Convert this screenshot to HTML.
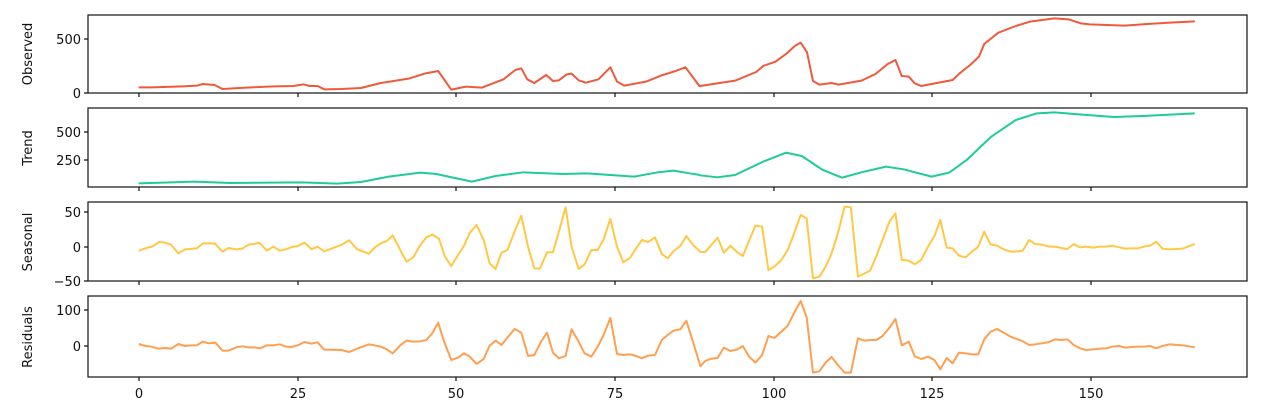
<!DOCTYPE html><html><head><meta charset="utf-8"><style>body{margin:0;background:#fff}svg{display:block;font-family:"DejaVu Sans","Liberation Sans",sans-serif}</style></head><body>
<svg width="1263" height="414" viewBox="0 0 1263 414" xmlns="http://www.w3.org/2000/svg">
<g fill="none" stroke-linejoin="round" stroke-width="2" vector-effect="non-scaling-stroke">
<g transform="translate(88,10) scale(0.3957,0.3333)"><polyline vector-effect="non-scaling-stroke" stroke="#ee5a3c" points="128,232 160,232 240,229 275,227 290,222 320,225 340,237 400,233 470,229 520,228 545,223 560,228 580,228 597,238 640,237 690,234 740,219 810,206 850,191 885,183 918,239 955,230 995,233 1050,208 1080,180 1095,175 1110,208 1128,219 1158,195 1175,213 1190,211 1210,193 1222,191 1240,211 1258,218 1290,208 1320,172 1337,215 1355,227 1410,215 1450,196 1485,183 1510,172 1545,228 1549,228"/>
<polyline vector-effect="non-scaling-stroke" stroke="#1fcc99" points="128,520 270,515 360,519 540,517 630,521 690,516 760,500 840,488 880,492 970,515 1030,498 1100,487 1200,492 1260,490 1380,500 1440,487 1480,482 1520,490 1547,495"/></g>
<g transform="translate(700,10) scale(0.3509,0.3333)"><polyline vector-effect="non-scaling-stroke" stroke="#ee5a3c" points="0,228 100,212 160,186 180,168 215,155 250,128 270,108 287,98 305,127 322,213 340,224 375,219 395,224 460,212 500,192 535,162 557,150 575,198 595,200 612,220 630,228 720,210 740,190 770,165 795,140 810,102 850,68 900,48 940,35 1010,25 1050,28 1085,40 1110,43 1160,45 1210,47 1260,43 1340,38 1410,34"/>
<polyline vector-effect="non-scaling-stroke" stroke="#1fcc99" points="0,496 50,502 100,495 180,455 245,428 290,438 350,480 405,503 460,487 530,470 580,478 660,500 710,488 760,450 830,380 900,330 960,310 1010,307 1080,313 1180,321 1260,318 1410,310"/></g>
<g transform="translate(88,200) scale(0.3957,0.3333)"><polyline vector-effect="non-scaling-stroke" stroke="#ffc845" points="128,152 150,143 162,140 180,126 195,128 210,134 228,160 245,148 275,145 290,130 320,130 340,155 355,144 375,148 390,146 405,134 420,132 433,128 452,152 468,140 485,152 500,148 515,141 530,138 547,128 565,148 580,140 597,154 640,135 660,121 680,148 710,161 725,142 740,130 755,123 770,106 790,152 805,185 822,172 840,135 855,112 870,104 887,116 902,170 918,198 935,165 950,138 965,98 982,75 1000,120 1015,190 1030,207 1045,158 1060,150 1078,95 1095,47 1112,140 1128,205 1142,206 1160,157 1175,157 1190,95 1207,22 1222,140 1240,207 1255,193 1272,150 1288,150 1303,118 1320,57 1337,140 1353,187 1370,173 1385,145 1400,120 1415,126 1433,112 1450,162 1465,175 1480,153 1497,138 1512,108 1530,136 1548,156"/>
<polyline vector-effect="non-scaling-stroke" stroke="#ff9f50" points="128,432 145,438 160,440 178,446 195,444 210,446 228,432 245,438 260,436 275,436 290,425 305,430 322,428 340,452 355,452 375,442 390,439 405,442 420,442 435,445 452,436 468,436 485,433 500,440 515,441 530,436 547,426 565,431 580,427 597,449 640,450 660,456 680,446 710,433 740,440 755,448 770,460 790,435 805,422 822,425 840,424 855,420 870,400 885,368 900,425 918,480 935,473 950,460 965,470 982,492 1000,477 1015,437 1030,422 1045,435 1062,410 1078,387 1095,398 1112,468 1128,465 1145,425 1160,398 1175,458 1190,475 1207,468 1222,388 1240,425 1255,460 1272,470 1288,440 1303,405 1320,354 1337,462 1353,465 1370,463 1385,468 1400,475 1415,467 1433,465 1450,420 1465,405 1480,392 1497,388 1512,362 1530,430 1548,500"/></g>
<g transform="translate(700,200) scale(0.3509,0.3333)"><polyline vector-effect="non-scaling-stroke" stroke="#ffc845" points="0,156 15,156 50,113 68,158 87,137 105,156 122,168 140,122 158,77 177,80 195,210 212,200 232,180 250,150 270,95 287,45 304,55 322,235 340,230 358,200 375,160 393,100 412,20 430,22 450,230 485,212 500,175 520,120 540,65 557,40 575,180 595,182 612,193 630,180 650,140 668,108 685,60 703,143 720,145 738,167 757,172 775,155 793,140 810,95 828,133 847,137 865,148 885,155 900,155 920,152 938,120 955,132 975,134 995,140 1012,140 1030,144 1047,147 1065,132 1083,142 1100,140 1120,143 1140,140 1158,140 1175,137 1195,142 1212,146 1230,145 1248,145 1265,140 1283,137 1300,125 1318,146 1338,148 1375,146 1410,132"/>
<polyline vector-effect="non-scaling-stroke" stroke="#ff9f50" points="0,500 15,483 32,476 50,474 68,443 87,453 105,449 122,438 140,470 158,488 177,465 195,408 212,414 232,395 250,377 270,335 287,303 304,352 322,518 340,514 358,488 375,471 393,495 412,518 430,518 450,415 468,422 485,420 503,420 520,408 540,383 557,357 575,436 595,425 612,469 630,477 650,470 668,480 685,508 703,474 720,490 738,458 757,460 775,463 793,463 810,418 828,395 847,387 865,398 885,410 905,418 920,424 938,435 955,433 975,430 995,426 1012,418 1030,420 1047,418 1065,435 1083,445 1100,450 1120,448 1140,446 1158,445 1175,440 1195,438 1212,443 1230,441 1248,440 1265,440 1283,438 1300,445 1318,438 1338,433 1375,436 1410,442"/></g>
</g>
<g fill="none" stroke="#111" stroke-width="1.2">
<rect x="88" y="15" width="1159" height="78"/><rect x="88" y="108" width="1159" height="79"/><rect x="88" y="202" width="1159" height="79"/><rect x="88" y="296" width="1159" height="81"/>
<path d="M139,93v4M298,93v4M456,93v4M615,93v4M774,93v4M932,93v4M1091,93v4 M139,187v4M298,187v4M456,187v4M615,187v4M774,187v4M932,187v4M1091,187v4 M139,281v4M298,281v4M456,281v4M615,281v4M774,281v4M932,281v4M1091,281v4 M139,377v4M298,377v4M456,377v4M615,377v4M774,377v4M932,377v4M1091,377v4 M84,39h4M84,93h4M84,132h4M84,160h4M84,212h4M84,247h4M84,281h4M84,310h4M84,346h4"/>
</g>
<g font-size="13" fill="#111" text-anchor="end">
<text x="81" y="44">500</text><text x="81" y="98">0</text><text x="81" y="137">500</text><text x="81" y="165">250</text><text x="81" y="217">50</text><text x="81" y="252">0</text><text x="81" y="286">−50</text><text x="81" y="315">100</text><text x="81" y="351">0</text>
</g>
<g font-size="13" fill="#111" text-anchor="middle">
<text x="139" y="398">0</text><text x="298" y="398">25</text><text x="456" y="398">50</text><text x="615" y="398">75</text><text x="774" y="398">100</text><text x="932" y="398">125</text><text x="1091" y="398">150</text>
<text transform="translate(32,54) rotate(-90)">Observed</text><text transform="translate(32,148) rotate(-90)">Trend</text><text transform="translate(32,242) rotate(-90)">Seasonal</text><text transform="translate(32,337) rotate(-90)">Residuals</text>
</g>
</svg></body></html>
